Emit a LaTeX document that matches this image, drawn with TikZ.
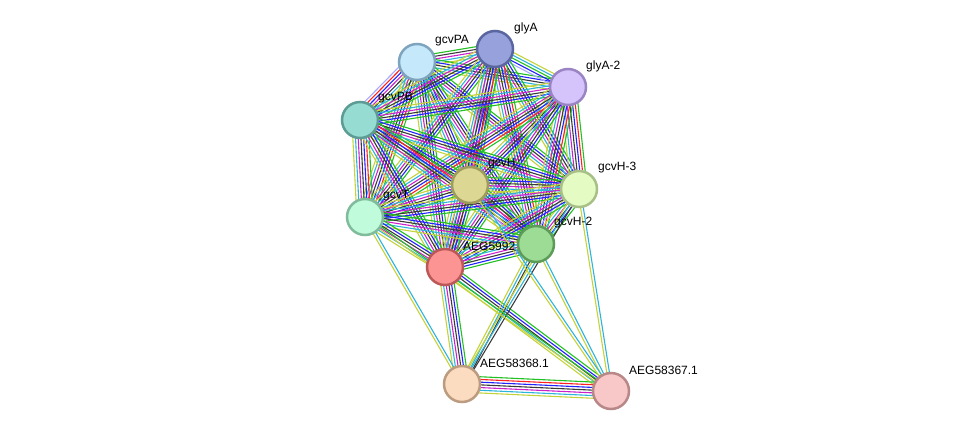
\documentclass[tikz,border=0pt]{standalone}
\usepackage{fontspec}
\setmainfont{Liberation Sans}
\usetikzlibrary{calc}
\pgfdeclarelayer{edges}
\pgfsetlayers{edges,main}
\definecolor{tm}{HTML}{C4D33A}
\definecolor{db}{HTML}{2EB4DA}
\definecolor{ex}{HTML}{CC22CC}
\definecolor{cx}{HTML}{3A3A3A}
\definecolor{co}{HTML}{2222FF}
\definecolor{fu}{HTML}{FF2222}
\definecolor{nb}{HTML}{22C022}
\definecolor{ho}{HTML}{A8A8FF}
\definecolor{fPA}{RGB}{198,232,251}\definecolor{dPA}{RGB}{127,165,190}
\definecolor{fGA}{RGB}{151,162,220}\definecolor{dGA}{RGB}{90,102,160}
\definecolor{fGAb}{RGB}{212,196,251}\definecolor{dGAb}{RGB}{154,132,196}
\definecolor{fPB}{RGB}{151,220,210}\definecolor{dPB}{RGB}{92,156,148}
\definecolor{fH}{RGB}{220,216,148}\definecolor{dH}{RGB}{160,156,92}
\definecolor{fHc}{RGB}{228,252,196}\definecolor{dHc}{RGB}{168,192,136}
\definecolor{fT}{RGB}{192,252,220}\definecolor{dT}{RGB}{128,188,156}
\definecolor{fHb}{RGB}{156,220,148}\definecolor{dHb}{RGB}{92,156,88}
\definecolor{fA}{RGB}{252,148,148}\definecolor{dA}{RGB}{188,88,88}
\definecolor{fLa}{RGB}{252,220,192}\definecolor{dLa}{RGB}{188,156,128}
\definecolor{fLb}{RGB}{248,200,200}\definecolor{dLb}{RGB}{184,136,136}
\newcommand{\edg}[3]{%
 \foreach \c [count=\i] in {#3}{\xdef\ecount{\i}}%
 \foreach \c [count=\i] in {#3}{%
  \pgfmathsetmacro\off{(\i-(\ecount+1)/2)*2.7}%
  \draw[edgeline,draw=\c] ($(#1)!\off pt!90:(#2)$) -- ($(#2)!\off pt!-90:(#1)$);
 }%
}
\tikzset{
 prot/.style={circle,minimum size=36pt,inner sep=0pt,line width=2.5pt},
 lab/.style={anchor=west,font=\fontsize{12}{14}\selectfont,inner sep=0pt,text=black},
 edgeline/.style={line width=1.1pt}
}
\begin{document}
\begin{tikzpicture}[x=1pt,y=-1pt]
\useasboundingbox (0,0) rectangle (975,437);
% proteins
\node[prot,fill=fPA,draw=dPA] (PA) at (417,62) {};
\node[prot,fill=fGA,draw=dGA] (GA) at (495,49) {};
\node[prot,fill=fGAb,draw=dGAb] (GA2) at (568,87) {};
\node[prot,fill=fPB,draw=dPB] (PB) at (360,120) {};
\node[prot,fill=fH,draw=dH] (H) at (470,185) {};
\node[prot,fill=fHc,draw=dHc] (H3) at (579,189) {};
\node[prot,fill=fT,draw=dT] (T) at (365,217) {};
\node[prot,fill=fHb,draw=dHb] (H2) at (536,244) {};
\node[prot,fill=fA,draw=dA] (A) at (445,267) {};
\node[prot,fill=fLa,draw=dLa] (L1) at (462,384) {};
\node[prot,fill=fLb,draw=dLb] (L2) at (611,391) {};
% labels
\node[lab] (PAl) at (435,41) {gcvPA};
\node[lab] (GAl) at (514,28) {glyA};
\node[lab] (GA2l) at (586,66) {glyA-2};
\node[lab] (PBl) at (378,98) {gcvPB};
\node[lab] (Hl) at (488,164) {gcvH};
\node[lab] (H3l) at (598,168) {gcvH-3};
\node[lab] (Tl) at (383,196) {gcvT};
\node[lab] (H2l) at (554,223) {gcvH-2};
\node[lab] (Al) at (463,246) {AEG5992};
\node[lab] (L1l) at (480,363) {AEG58368.1};
\node[lab] (L2l) at (629,370) {AEG58367.1};
\begin{pgfonlayer}{edges}
\edg{PA}{GA}{tm,db,ex,cx,nb}
\edg{PA}{GA2}{tm,db,cx,co,nb}
\edg{PA}{PB}{ho,fu,co,ex,cx,db,tm,nb}
\edg{PA}{H}{tm,db,ex,cx,co,nb}
\edg{PA}{H3}{tm,db,ex,cx,co,nb}
\edg{PA}{T}{tm,db,ex,cx,co,fu,nb}
\edg{PA}{H2}{tm,db,ex,cx,co,nb}
\edg{PA}{A}{tm,db,ex,cx,co,nb}
\edg{GA}{GA2}{ho,co,nb,db,tm}
\edg{GA}{PB}{tm,db,ex,cx,co,nb}
\edg{GA}{H}{tm,db,ex,cx,co,nb}
\edg{GA}{H3}{tm,db,ex,cx,co,nb}
\edg{GA}{T}{tm,db,ex,cx,co,nb}
\edg{GA}{H2}{tm,db,ex,cx,co,fu,nb}
\edg{GA}{A}{tm,db,ex,cx,co,fu,nb}
\edg{GA2}{PB}{tm,db,ex,cx,co,nb}
\edg{GA2}{H}{tm,db,ex,cx,co,nb}
\edg{GA2}{H3}{tm,db,ex,cx,co,fu,nb}
\edg{GA2}{T}{tm,db,ex,cx,co,fu,nb}
\edg{GA2}{H2}{tm,db,ex,cx,co,fu,nb}
\edg{GA2}{A}{tm,db,ex,cx,co,nb}
\edg{PB}{H}{tm,db,ex,cx,co,nb}
\edg{PB}{H3}{tm,db,ex,cx,co,nb}
\edg{PB}{T}{tm,db,ex,cx,co,fu,nb}
\edg{PB}{H2}{tm,db,ex,cx,co,fu,nb}
\edg{PB}{A}{tm,db,ex,cx,co,nb}
\edg{H}{H3}{ho,tm,db,ex,cx,co,nb}
\edg{H}{T}{tm,db,ex,cx,co,nb}
\edg{H}{H2}{ho,tm,db,ex,cx,co,nb}
\edg{H}{A}{tm,db,ex,cx,co,nb}
\edg{H3}{T}{tm,db,ex,cx,co,nb}
\edg{H3}{H2}{ho,tm,db,ex,cx,co,nb}
\edg{H3}{A}{tm,db,ex,cx,co,nb}
\edg{T}{H2}{tm,db,ex,cx,co,nb}
\edg{T}{A}{tm,db,ex,cx,co,nb}
\edg{H2}{A}{tm,db,ex,cx,co,nb}
\edg{A}{L1}{tm,db,ex,cx,co,nb}
\edg{A}{L2}{tm,db,cx,co,nb}
\edg{H2}{L1}{tm,db,cx}
\edg{H3}{L1}{tm,db,cx}
\edg{H2}{L2}{tm,db}
\edg{H3}{L2}{tm,db}
\edg{H}{L2}{tm,db}
\edg{T}{L1}{tm,db}
\edg{T}{L2}{tm,nb}
\edg{L1}{L2}{tm,db,ex,cx,co,fu,nb}
\end{pgfonlayer}
\end{tikzpicture}
\end{document}
